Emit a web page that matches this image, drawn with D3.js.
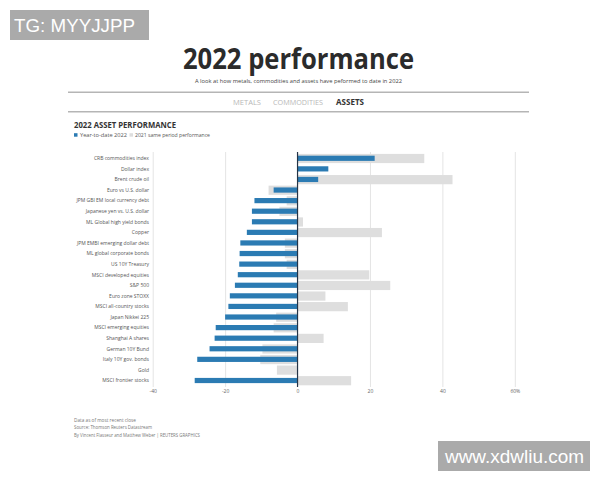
<!DOCTYPE html>
<html>
<head>
<meta charset="utf-8">
<script src="https://cdn.jsdelivr.net/npm/d3@7"></script>
<style>
  html, body { margin: 0; padding: 0; background: #ffffff; }
  svg { display: block; }
</style>
</head>
<body>
<svg id="chart" width="600" height="480"></svg>
<script>
const categories = [
  "CRB commodities index", "Dollar index", "Brent crude oil", "Euro vs U.S. dollar",
  "JPM GBI EM local currency debt", "Japanese yen vs. U.S. dollar", "ML Global high yield bonds",
  "Copper", "JPM EMBI emerging dollar debt", "ML global corporate bonds", "US 10Y Treasury",
  "MSCI developed equities", "S&P 500", "Euro zone STOXX", "MSCI all-country stocks",
  "Japan Nikkei 225", "MSCI emerging equities", "Shanghai A shares", "German 10Y Bund",
  "Italy 10Y gov. bonds", "Gold", "MSCI frontier stocks"
];
const ytd2022 = [21.3, 8.5, 5.7, -6.6, -11.9, -12.6, -12.6, -14.0, -15.8, -16.0, -16.1,
  -16.5, -17.3, -18.7, -19.1, -20.0, -22.6, -22.9, -24.3, -27.7, 0, -28.4];
const same2021 = [35.0, 0, 42.8, -8.0, -3.0, -5.0, 1.5, 23.3, -3.5, -3.5, -3.0,
  19.8, 25.6, 7.7, 13.9, -5.9, -6.6, 7.2, -9.7, -10.3, -5.7, 14.8];
const tickValues = [-40, -20, 0, 20, 40, 60];
const tickLabels = ["-40", "-20", "0", "20", "40", "60%"];
const navItems = ["METALS", "COMMODITIES", "ASSETS"];
const legendLabels = ["Year-to-date 2022", "2021 same period performance"];
const footnotes = [
  "Data as of most recent close",
  "Source: Thomson Reuters Datastream",
  "By Vincent Flasseur and Matthew Weber | REUTERS GRAPHICS"
];

const svg = d3.select("#chart");
const FONT = "'Open Sans', 'Noto Sans', sans-serif";
const BLUE = "#2b7bb3";
const GREY = "#dedede";

svg.append("rect").attr("width", 600).attr("height", 480).attr("fill", "#fff");

// Title & subtitle
svg.append("text").attr("x", 298.5).attr("y", 68.5).attr("text-anchor", "middle")
  .attr("font-family", FONT).attr("font-weight", 700).attr("font-size", 29)
  .attr("fill", "#2b2b2b").attr("textLength", 231).attr("lengthAdjust", "spacingAndGlyphs")
  .text("2022 performance");
svg.append("text").attr("x", 298.5).attr("y", 83).attr("text-anchor", "middle")
  .attr("font-family", FONT).attr("font-size", 5.6).attr("fill", "#444")
  .attr("textLength", 207).attr("lengthAdjust", "spacingAndGlyphs")
  .text("A look at how metals, commodities and assets have peformed to date in 2022");

// Rules
[92.3, 111.7].forEach(y => {
  svg.append("line").attr("x1", 68).attr("x2", 529).attr("y1", y).attr("y2", y)
    .attr("stroke", "#b5b5b5").attr("stroke-width", 1.5);
});

// Nav
const navX = [233, 273, 336];
const navW = [28, 50, 28];
navItems.forEach((t, i) => {
  svg.append("text").attr("x", navX[i]).attr("y", 104.5)
    .attr("font-family", FONT).attr("font-size", 8)
    .attr("font-weight", i === 2 ? 700 : 400)
    .attr("fill", i === 2 ? "#333" : "#b8b8b8")
    .attr("textLength", navW[i]).attr("lengthAdjust", "spacingAndGlyphs")
    .text(t);
});

// Chart header
svg.append("text").attr("x", 74).attr("y", 128).attr("font-family", FONT)
  .attr("font-weight", 700).attr("font-size", 8).attr("fill", "#333")
  .attr("textLength", 102).attr("lengthAdjust", "spacingAndGlyphs")
  .text("2022 ASSET PERFORMANCE");

// Legend
svg.append("rect").attr("x", 74).attr("y", 133.2).attr("width", 3.5).attr("height", 3.5).attr("fill", BLUE);
svg.append("text").attr("x", 80).attr("y", 136.8).attr("font-family", FONT).attr("font-size", 5)
  .attr("fill", "#555").attr("textLength", 47).attr("lengthAdjust", "spacingAndGlyphs").text(legendLabels[0]);
svg.append("rect").attr("x", 129.5).attr("y", 133.2).attr("width", 3.5).attr("height", 3.5).attr("fill", GREY);
svg.append("text").attr("x", 135).attr("y", 136.8).attr("font-family", FONT).attr("font-size", 5)
  .attr("fill", "#555").attr("textLength", 75).attr("lengthAdjust", "spacingAndGlyphs").text(legendLabels[1]);

// Scales
const x = d3.scaleLinear().domain([-40, 60]).range([152.7, 514.8]);
const y = d3.scaleBand().domain(categories).range([153.2, 386]).paddingInner(0).paddingOuter(0);
const gridTop = 152, gridBottom = 387;

// Grid via axis
const grid = svg.append("g").attr("transform", `translate(0,${gridBottom})`)
  .call(d3.axisBottom(x).tickValues(tickValues.filter(v => v !== 0)).tickSize(-(gridBottom - gridTop)).tickFormat(""));
grid.select(".domain").remove();
grid.selectAll(".tick line").attr("stroke", "#e4e4e4").attr("stroke-width", 1);

// Bars
const rows = svg.append("g");
rows.selectAll("rect.prev").data(categories).join("rect").attr("class", "prev")
  .attr("x", (d, i) => Math.min(x(0), x(same2021[i])))
  .attr("width", (d, i) => Math.abs(x(same2021[i]) - x(0)))
  .attr("y", d => y(d) + y.bandwidth() / 2 - 4.6)
  .attr("height", 9.2)
  .attr("fill", GREY);
rows.selectAll("rect.ytd").data(categories).join("rect").attr("class", "ytd")
  .attr("x", (d, i) => Math.min(x(0), x(ytd2022[i])))
  .attr("width", (d, i) => Math.abs(x(ytd2022[i]) - x(0)))
  .attr("y", d => y(d) + y.bandwidth() / 2 - 2.8)
  .attr("height", 5.2)
  .attr("fill", BLUE);

// Zero line
svg.append("line").attr("x1", x(0)).attr("x2", x(0)).attr("y1", gridTop).attr("y2", gridBottom)
  .attr("stroke", "#243447").attr("stroke-width", 1.2);

// Category labels
const yAxis = svg.append("g").attr("transform", "translate(149,0)")
  .call(d3.axisLeft(y).tickSize(0).tickPadding(0));
yAxis.select(".domain").remove();
yAxis.selectAll("text").attr("font-family", FONT).attr("font-size", 5).attr("fill", "#555");

// X tick labels
const xAxis = svg.append("g").attr("transform", "translate(0,389)")
  .call(d3.axisBottom(x).tickValues(tickValues).tickSize(0).tickPadding(0)
    .tickFormat((d, i) => tickLabels[i]));
xAxis.select(".domain").remove();
xAxis.selectAll("text").attr("font-family", FONT).attr("font-size", 5).attr("fill", "#666");

// Footnotes
const footW = [62, 78, 126];
footnotes.forEach((t, i) => {
  svg.append("text").attr("x", 74).attr("y", 422 + i * 7.3).attr("font-family", FONT)
    .attr("font-size", 4.6).attr("fill", "#777")
    .attr("textLength", footW[i]).attr("lengthAdjust", "spacingAndGlyphs").text(t);
});

// Watermarks
svg.append("rect").attr("x", 10).attr("y", 10).attr("width", 139).attr("height", 30).attr("fill", "#aaaaaa");
svg.append("text").attr("x", 14).attr("y", 32).attr("font-family", "'Liberation Sans', Arial, sans-serif")
  .attr("font-size", 19).attr("fill", "#fff").attr("textLength", 121).attr("lengthAdjust", "spacingAndGlyphs")
  .text("TG: MYYJJPP");
svg.append("rect").attr("x", 438).attr("y", 441).attr("width", 152).attr("height", 30).attr("fill", "#aaaaaa");
svg.append("text").attr("x", 445).attr("y", 463).attr("font-family", "'Liberation Sans', Arial, sans-serif")
  .attr("font-size", 19).attr("fill", "#fff").attr("textLength", 139).attr("lengthAdjust", "spacingAndGlyphs")
  .text("www.xdwliu.com");
</script>
</body>
</html>
